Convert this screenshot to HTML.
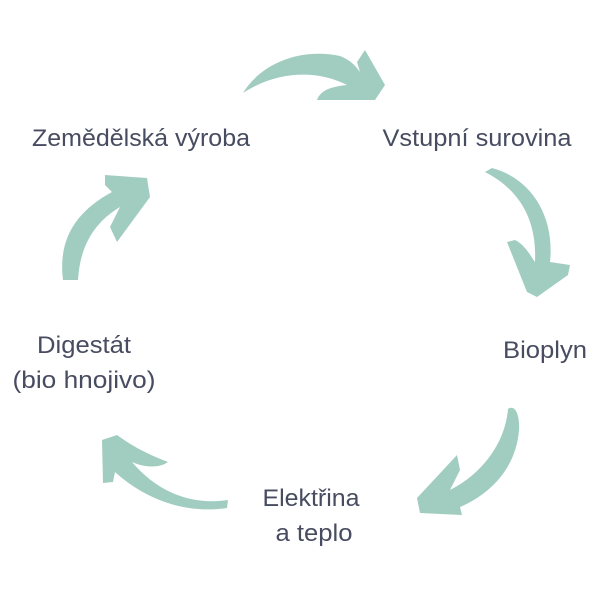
<!DOCTYPE html>
<html><head><meta charset="utf-8"><style>
html,body{margin:0;padding:0;background:#fff;}
svg{display:block;}
text{font-family:"Liberation Sans",sans-serif;font-size:24px;fill:#474c60;text-anchor:middle;}
</style></head><body>
<svg width="600" height="600" viewBox="0 0 600 600">
<g fill="#a1cdc0">
<path d="M243,93 C262,62 302,48 340,56 C350,60 355,65 360,72 L357,62 L365,50 L385,85 L375,100 L317,100 C320,92 327,87 347,85 C318,70 278,70 243,93 Z"/>
<path d="M485,172 L492,168 C530,178 555,215 550,262 L570,265 L568,275 L537,297 L527,292 L507,242 L515,240 C525,245 530,255 535,262 C537,220 520,190 485,172 Z"/>
<path d="M508,409 C515,404 520,415 519,430 C516,470 488,495 460,507 L462,515 L420,513 L417,498 L457,455 L460,470 L450,490 C480,475 505,445 508,409 Z"/>
<path d="M102,440 L117,435 C135,448 150,455 168,462 C160,468 145,468 132,462 C160,495 195,505 228,500 L227,508 C180,515 140,495 115,472 L113,482 L103,483 Z"/>
<path d="M63,280 C58,240 75,212 112,192 L105,185 L105,175 L147,178 L150,197 L117,242 L110,227 L120,207 C95,222 80,245 78,280 Z"/>
</g>
<text x="141" y="146" textLength="218" lengthAdjust="spacingAndGlyphs">Zemědělská výroba</text>
<text x="477" y="146" textLength="189" lengthAdjust="spacingAndGlyphs">Vstupní surovina</text>
<text x="545" y="358" textLength="84" lengthAdjust="spacingAndGlyphs">Bioplyn</text>
<text x="84" y="353" textLength="94" lengthAdjust="spacingAndGlyphs">Digestát</text>
<text x="84" y="388" textLength="143" lengthAdjust="spacingAndGlyphs">(bio hnojivo)</text>
<text x="311" y="506" textLength="97" lengthAdjust="spacingAndGlyphs">Elektřina</text>
<text x="314" y="541" textLength="77" lengthAdjust="spacingAndGlyphs">a teplo</text>
</svg>
</body></html>
